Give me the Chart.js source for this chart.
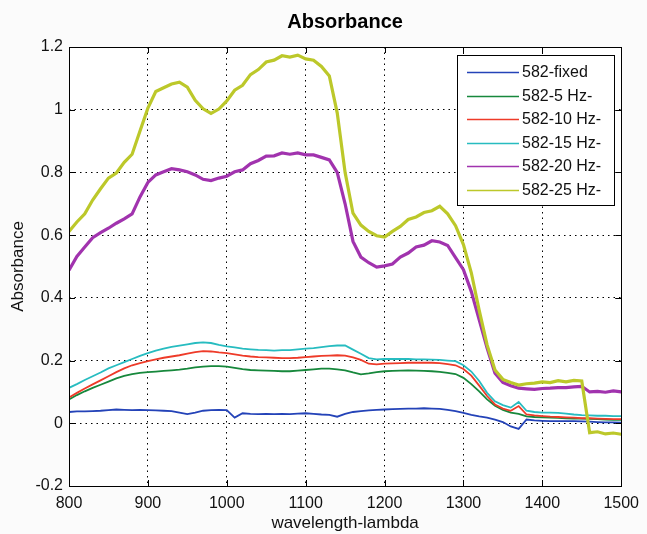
<!DOCTYPE html>
<html>
<head>
<meta charset="utf-8">
<script src="https://cdn.jsdelivr.net/npm/chart.js@4"></script>
<style>
  html, body { margin: 0; padding: 0; background: #fbfbfb; }
  #wrap { width: 647px; height: 534px; position: relative; }
</style>
</head>
<body>
<div id="wrap"><canvas id="chart"></canvas></div>
<script>
// wavelength (nm), one value every 10 nm
const wavelengths = [
  800, 810, 820, 830, 840, 850, 860, 870, 880, 890,
  900, 910, 920, 930, 940, 950, 960, 970, 980, 990,
  1000, 1010, 1020, 1030, 1040, 1050, 1060, 1070, 1080, 1090,
  1100, 1110, 1120, 1130, 1140, 1150, 1160, 1170, 1180, 1190,
  1200, 1210, 1220, 1230, 1240, 1250, 1260, 1270, 1280, 1290,
  1300, 1310, 1320, 1330, 1340, 1350, 1360, 1370, 1380, 1390,
  1400, 1410, 1420, 1430, 1440, 1450, 1460, 1470, 1480, 1490, 1500
];

const seriesLabels = ['582-fixed', '582-5 Hz-', '582-10 Hz-', '582-15 Hz-', '582-20 Hz-', '582-25 Hz-'];
const seriesColors = ['#2443b8', '#17883c', '#ee3b29', '#27bcc0', '#a133ae', '#bcc82a'];

const fixed = [
  0.036, 0.038, 0.038, 0.039, 0.040, 0.042, 0.044, 0.043, 0.042, 0.043,
  0.042, 0.041, 0.040, 0.039, 0.034, 0.029, 0.034, 0.040, 0.042, 0.043,
  0.042, 0.018, 0.032, 0.030, 0.029, 0.030, 0.029, 0.030, 0.029, 0.031,
  0.032, 0.030, 0.028, 0.027, 0.021, 0.030, 0.036, 0.039, 0.041, 0.043,
  0.044, 0.045, 0.046, 0.047, 0.047, 0.048, 0.047, 0.046, 0.043, 0.039,
  0.033, 0.027, 0.022, 0.018, 0.012, 0.004, -0.010, -0.018, 0.012, 0.009,
  0.008, 0.007, 0.007, 0.007, 0.007, 0.006, 0.005, 0.004, 0.003, 0.003, 0.002
];
const hz5 = [
  0.076, 0.090, 0.102, 0.113, 0.123, 0.133, 0.143, 0.151, 0.157, 0.161,
  0.163, 0.165, 0.167, 0.169, 0.171, 0.174, 0.178, 0.181, 0.182, 0.182,
  0.181, 0.177, 0.173, 0.170, 0.169, 0.168, 0.167, 0.166, 0.166, 0.168,
  0.170, 0.172, 0.174, 0.174, 0.172, 0.169, 0.162, 0.156, 0.159, 0.163,
  0.166, 0.167, 0.168, 0.169, 0.168, 0.167, 0.166, 0.164, 0.161, 0.157,
  0.145, 0.125, 0.102, 0.076, 0.056, 0.043, 0.034, 0.030, 0.022, 0.020,
  0.019, 0.018, 0.017, 0.016, 0.015, 0.015, 0.014, 0.013, 0.012, 0.011, 0.011
];
const hz10 = [
  0.082, 0.097, 0.111, 0.124, 0.137, 0.150, 0.163, 0.175, 0.185, 0.192,
  0.198, 0.204, 0.209, 0.213, 0.217, 0.222, 0.227, 0.230, 0.229, 0.226,
  0.224, 0.220, 0.216, 0.213, 0.211, 0.210, 0.209, 0.208, 0.208, 0.209,
  0.211, 0.213, 0.215, 0.216, 0.217, 0.216, 0.210, 0.202, 0.190, 0.188,
  0.190, 0.191, 0.192, 0.193, 0.193, 0.193, 0.193, 0.192, 0.189, 0.185,
  0.173, 0.152, 0.120, 0.087, 0.060, 0.047, 0.040, 0.055, 0.028, 0.025,
  0.023, 0.021, 0.020, 0.019, 0.018, 0.016, 0.016, 0.015, 0.014, 0.013, 0.013
];
const hz15 = [
  0.113, 0.125, 0.138, 0.150, 0.162, 0.175, 0.185, 0.195, 0.205, 0.215,
  0.224, 0.232, 0.238, 0.244, 0.248, 0.252, 0.256, 0.258, 0.256, 0.250,
  0.245, 0.242, 0.238, 0.236, 0.234, 0.233, 0.232, 0.233, 0.233, 0.236,
  0.238, 0.240, 0.243, 0.246, 0.248, 0.248, 0.235, 0.222, 0.208, 0.204,
  0.205, 0.205, 0.205, 0.205, 0.204, 0.204, 0.203, 0.202, 0.200, 0.198,
  0.185, 0.165, 0.135, 0.097, 0.070, 0.058, 0.050, 0.068, 0.040, 0.036,
  0.034, 0.034, 0.033, 0.031, 0.028, 0.026, 0.025, 0.024, 0.024, 0.023, 0.023
];
const hz20 = [
  0.488, 0.532, 0.562, 0.592, 0.608, 0.622, 0.638, 0.652, 0.668, 0.722,
  0.768, 0.792, 0.802, 0.812, 0.808, 0.802, 0.792, 0.778, 0.774, 0.782,
  0.788, 0.802, 0.808, 0.828, 0.838, 0.852, 0.853, 0.862, 0.858, 0.862,
  0.856, 0.856, 0.848, 0.840, 0.800, 0.700, 0.580, 0.530, 0.512, 0.498,
  0.502, 0.508, 0.530, 0.543, 0.562, 0.568, 0.582, 0.578, 0.567, 0.528,
  0.490, 0.420, 0.330, 0.240, 0.160, 0.130, 0.120, 0.112, 0.110, 0.108,
  0.111, 0.112, 0.114, 0.114, 0.116, 0.118, 0.100, 0.102, 0.099, 0.103, 0.100
];
const hz25 = [
  0.612, 0.642, 0.668, 0.712, 0.748, 0.782, 0.798, 0.832, 0.858, 0.932,
  1.005, 1.058, 1.070, 1.082, 1.088, 1.072, 1.030, 1.003, 0.988, 1.002,
  1.028, 1.062, 1.078, 1.112, 1.128, 1.152, 1.158, 1.172, 1.168, 1.174,
  1.162, 1.158, 1.138, 1.108, 0.990, 0.800, 0.670, 0.632, 0.612, 0.598,
  0.594, 0.612, 0.628, 0.650, 0.658, 0.672, 0.678, 0.692, 0.668, 0.630,
  0.570, 0.480, 0.360, 0.250, 0.170, 0.140, 0.130, 0.122, 0.126, 0.128,
  0.132, 0.130, 0.136, 0.132, 0.137, 0.135, -0.030, -0.027, -0.034, -0.031, -0.035
];

const xTicks = [800, 900, 1000, 1100, 1200, 1300, 1400, 1500];
const yTicks = [-0.2, 0, 0.2, 0.4, 0.6, 0.8, 1, 1.2];

const FONT = '"Liberation Sans", Arial, Helvetica, sans-serif';
Chart.defaults.font.family = FONT;
Chart.defaults.color = '#111';

function toPoints(values) {
  return values.map((v, i) => ({ x: wavelengths[i], y: v }));
}

const allSeries = [fixed, hz5, hz10, hz15, hz20, hz25];
const datasets = allSeries.map((values, i) => ({
  label: seriesLabels[i],
  data: toPoints(values),
  borderColor: seriesColors[i],
  backgroundColor: seriesColors[i],
  borderWidth: i >= 4 ? 3.2 : 1.8,
  pointRadius: 0,
  tension: 0,
  fill: false,
  order: allSeries.length - i   // later series drawn on top, like MATLAB
}));

// white plot background
const plotBackground = {
  id: 'plotBackground',
  beforeDraw(chart) {
    const { ctx, chartArea: a } = chart;
    ctx.save();
    ctx.fillStyle = '#fff';
    ctx.fillRect(a.left, a.top, a.right - a.left, a.bottom - a.top);
    ctx.restore();
  }
};

// axes box with inward ticks on all four sides
const axesFrame = {
  id: 'axesFrame',
  afterDatasetsDraw(chart) {
    const { ctx, chartArea: a, scales } = chart;
    const tick = 6;
    ctx.save();
    ctx.strokeStyle = '#000';
    ctx.lineWidth = 1;
    ctx.beginPath();
    xTicks.forEach((v) => {
      const x = Math.round(scales.x.getPixelForValue(v)) + 0.5;
      ctx.moveTo(x, a.bottom); ctx.lineTo(x, a.bottom - tick);
      ctx.moveTo(x, a.top); ctx.lineTo(x, a.top + tick);
    });
    yTicks.forEach((v) => {
      const y = Math.round(scales.y.getPixelForValue(v)) + 0.5;
      ctx.moveTo(a.left, y); ctx.lineTo(a.left + tick, y);
      ctx.moveTo(a.right, y); ctx.lineTo(a.right - tick, y);
    });
    ctx.stroke();
    ctx.strokeRect(Math.round(a.left) + 0.5, Math.round(a.top) + 0.5,
      Math.round(a.right - a.left), Math.round(a.bottom - a.top));
    ctx.restore();
  }
};

// MATLAB-style legend box in the upper right corner
const legendBox = {
  id: 'legendBox',
  afterDraw(chart) {
    const { ctx, chartArea: a } = chart;
    const w = 157, h = 150;
    const x0 = Math.round(a.right - 7 - w), y0 = Math.round(a.top + 8);
    ctx.save();
    ctx.fillStyle = '#fff';
    ctx.fillRect(x0, y0, w, h);
    ctx.strokeStyle = '#000';
    ctx.lineWidth = 1;
    ctx.strokeRect(x0 + 0.5, y0 + 0.5, w, h);
    ctx.font = '16px ' + FONT;
    ctx.textBaseline = 'middle';
    ctx.textAlign = 'left';
    chart.data.datasets.forEach((ds, i) => {
      const y = Math.round(y0 + 17 + i * 23.5) + 0.5;
      ctx.strokeStyle = ds.borderColor;
      ctx.lineWidth = 1.5;
      ctx.beginPath();
      ctx.moveTo(x0 + 10, y);
      ctx.lineTo(x0 + 62, y);
      ctx.stroke();
      ctx.fillStyle = '#111';
      ctx.fillText(ds.label, x0 + 65, y);
    });
    ctx.restore();
  }
};

new Chart(document.getElementById('chart'), {
  type: 'line',
  data: { datasets },
  plugins: [plotBackground, axesFrame, legendBox],
  options: {
    responsive: true,
    maintainAspectRatio: false,
    animation: false,
    layout: { padding: { left: 0, right: 18, top: 0, bottom: 0 } },
    plugins: {
      legend: { display: false },
      tooltip: { enabled: false },
      title: {
        display: true,
        text: 'Absorbance',
        fullSize: false,
        color: '#000',
        font: { size: 20, weight: 'bold' },
        padding: { top: 10, bottom: 13 }
      }
    },
    scales: {
      x: {
        type: 'linear',
        min: 800,
        max: 1500,
        afterBuildTicks: (s) => { s.ticks = xTicks.map((v) => ({ value: v })); },
        afterFit: (s) => { s.height = 48; },
        grid: { color: '#000', lineWidth: 1, drawTicks: false },
        border: { display: false, dash: [1.5, 4] },
        ticks: { padding: 8, maxRotation: 0, autoSkip: false, font: { size: 16 }, color: '#111', callback: (v) => String(v) },
        title: { display: true, text: 'wavelength-lambda', color: '#111', font: { size: 17 }, padding: { top: 0, bottom: 0 } }
      },
      y: {
        min: -0.2,
        max: 1.2,
        afterBuildTicks: (s) => { s.ticks = yTicks.map((v) => ({ value: v })); },
        afterFit: (s) => { s.width = 69; },
        grid: { color: '#000', lineWidth: 1, drawTicks: false },
        border: { display: false, dash: [1.5, 4] },
        ticks: { padding: 6, font: { size: 16 }, color: '#111', callback: (v) => String(v) },
        title: { display: true, text: 'Absorbance', color: '#111', font: { size: 17 }, padding: { top: 8, bottom: 0 } }
      }
    }
  }
});
</script>
</body>
</html>
